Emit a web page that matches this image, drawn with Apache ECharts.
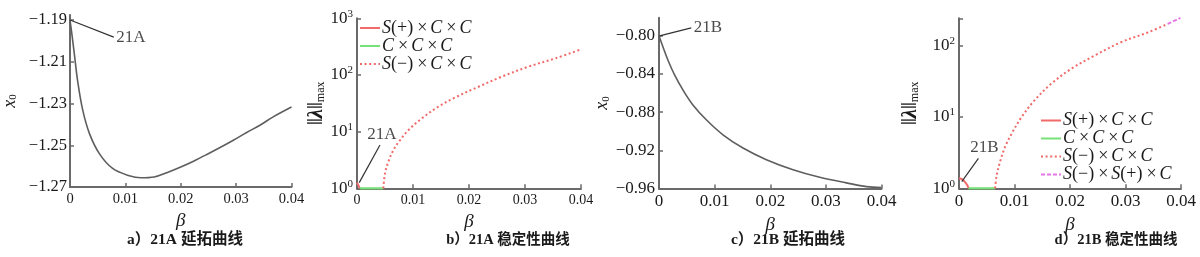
<!DOCTYPE html>
<html><head><meta charset="utf-8">
<script src="https://cdn.jsdelivr.net/npm/echarts@6/dist/echarts.min.js"></script>
<style>html,body{margin:0;padding:0;background:#fff}#c{width:1200px;height:257px}</style>
</head><body><div id="c"></div>
<script>
// ---- data ----
const xTicks = [0, 0.01, 0.02, 0.03, 0.04];
const yTicksA = [-1.27, -1.25, -1.23, -1.21, -1.19];
const yTicksC = [-0.96, -0.92, -0.88, -0.84, -0.80];

// a) 21A continuation curve
const betaA = [0, 0.0004, 0.00077, 0.0014, 0.0023, 0.0035, 0.0053, 0.0077, 0.0107, 0.0128, 0.0152, 0.0176, 0.0200, 0.0224, 0.0248, 0.0271, 0.0295, 0.0319, 0.0343, 0.0367, 0.0400];
const x0A   = [-1.19, -1.198, -1.206, -1.2196, -1.2332, -1.2443, -1.254, -1.2611, -1.2646, -1.2656, -1.2652, -1.2630, -1.2604, -1.2575, -1.2543, -1.2511, -1.2476, -1.2439, -1.2404, -1.2364, -1.2317];

// b) 21A stability curves
const betaB_sp = [0, 0.0003, 0.0005];
const lamB_sp  = [1.25, 1.1, 1.0];
const betaB_cc = [0.0005, 0.0047];
const lamB_cc  = [1, 1];
const betaB_sm = [0.0047, 0.0050, 0.0056, 0.0065, 0.0077, 0.0092, 0.0116, 0.0145, 0.0175, 0.0217, 0.0258, 0.0306, 0.0354, 0.040];
const lamB_sm  = [1.0, 1.84, 2.95, 4.73, 7.1, 10.7, 17.2, 27.5, 40, 62, 93, 140, 196, 283];

// c) 21B continuation curve
const betaC = [0, 0.0007, 0.0016, 0.0028, 0.0043, 0.0061, 0.0085, 0.0115, 0.0151, 0.0193, 0.0241, 0.0289, 0.0337, 0.0373, 0.040];
const x0C   = [-0.80, -0.8115, -0.8254, -0.841, -0.8567, -0.8724, -0.888, -0.9037, -0.9176, -0.9298, -0.9403, -0.9483, -0.9541, -0.958, -0.959];

// d) 21B stability curves
const betaD_sp = [0, 0.0006, 0.0011, 0.0015, 0.0017];
const lamD_sp  = [1.38, 1.33, 1.22, 1.1, 1.0];
const betaD_cc = [0.0017, 0.0065];
const lamD_cc  = [1, 1];
const betaD_sm = [0.0065, 0.0068, 0.0074, 0.0083, 0.0095, 0.0113, 0.0136, 0.0166, 0.0202, 0.0244, 0.0292, 0.034, 0.0376];
const lamD_sm  = [1.0, 1.53, 2.35, 3.8, 5.85, 10, 17, 29, 47, 72, 111, 152, 200];
const betaD_ss = [0.0376, 0.0399];
const lamD_ss  = [200, 243];

// annotations: [start, end] in data coordinates
const annA = [[0, -1.19], [0.0079, -1.1982]];
const annB = [[0.0004, 1.26], [0.0041, 5.8]];
const annC = [[0.0001, -0.80], [0.0058, -0.7916]];
const annD = [[0.0005, 1.24], [0.0035, 2.62]];

const namesB = ['S(+)×C×C', 'C×C×C', 'S(\u2212)×C×C'];
const namesD = ['S(+)×C×C', 'C×C×C', 'S(\u2212)×C×C', 'S(\u2212)×S(+)×C'];
const captions = ['a）21A 延拓曲线', 'b）21A 稳定性曲线', 'c）21B 延拓曲线', 'd）21B 稳定性曲线'];

// ---- style ----
const SERIF = '"Liberation Serif", "DejaVu Serif", serif';
const CJK = '"Liberation Serif", "Noto Sans CJK SC", serif';
const TXT = '#1a1a1a';
const AX = '#6a6a6a';
const RED = '#f06a6a', GREEN = '#78e078', MAG = '#e677e6', GRAY = '#5e5e5e';

const zip = (xs, ys) => xs.map((x, i) => [x, ys[i]]);

const grids = [
  {left: 69, top: 15, width: 222.5, height: 172},
  {left: 357, top: 18.3, width: 224, height: 170},
  {left: 659, top: 17.7, width: 222.5, height: 170.8},
  {left: 959, top: 18.3, width: 222, height: 170}
];
const xFs = [14.5, 14, 17, 17];
const capFs = [15.5, 14.5, 15.5, 14.5];
const capX = [185, 508, 788, 1116];

const xAxes = grids.map((g, i) => ({
  gridIndex: i, type: 'value', min: 0, max: 0.04, interval: 0.01,
  name: 'β', nameLocation: 'middle', nameGap: 21,
  nameTextStyle: {fontFamily: SERIF, fontStyle: 'italic', fontSize: 19, color: TXT},
  axisLine: {show: true, lineStyle: {color: AX, width: 2}},
  axisTick: {show: true, inside: true, length: 4, lineStyle: {color: AX, width: 1.5}},
  axisLabel: {fontFamily: SERIF, fontSize: xFs[i], color: TXT, margin: 5,
    customValues: xTicks, formatter: v => (v === 0 ? '0' : v.toFixed(2))},
  splitLine: {show: false}
}));

const fmtNum = v => (v < 0 ? '\u2212' : '') + Math.abs(v).toFixed(2);
const fmtLog = v => {
  const e = Math.log10(v), r = Math.round(e);
  if (Math.abs(e - r) > 1e-6) return '';
  return '10{s|' + r + '}';
};
const logRich = {s: {fontFamily: SERIF, fontSize: 11, verticalAlign: 'top', lineHeight: 10, color: TXT}};

const x0Name = '{i|x}{s|0}';
const x0Rich = {i: {fontFamily: SERIF, fontStyle: 'italic', fontSize: 18, color: TXT},
                s: {fontFamily: SERIF, fontSize: 11, verticalAlign: 'bottom', color: TXT}};
const lamName = '{n|‖}{l|λ}{n|‖}{s|max}';
const lamRich = {n: {fontFamily: SERIF, fontSize: 21, fontWeight: 'bold', color: '#555'},
                 l: {fontFamily: SERIF, fontSize: 21, fontStyle: 'italic', fontWeight: 'bold', color: TXT},
                 s: {fontFamily: SERIF, fontSize: 12, verticalAlign: 'bottom', color: TXT}};

const baseY = {
  axisLine: {show: true, lineStyle: {color: AX, width: 2}},
  axisTick: {show: true, inside: true, length: 4, lineStyle: {color: AX, width: 1.5}},
  splitLine: {show: false},
  nameLocation: 'middle', nameRotate: 90
};
const yAxes = [
  Object.assign({}, baseY, {gridIndex: 0, type: 'value', min: -1.27, max: -1.1876,
    axisLabel: {fontFamily: SERIF, fontSize: 16.5, color: TXT, margin: 3, customValues: yTicksA, formatter: fmtNum},
    axisTick: Object.assign({}, baseY.axisTick, {customValues: yTicksA}),
    name: x0Name, nameGap: 51, nameTextStyle: {rich: x0Rich}}),
  Object.assign({}, baseY, {gridIndex: 1, type: 'log', logBase: 10, min: 1, max: 1000,
    axisLabel: {fontFamily: SERIF, fontSize: 17, color: TXT, margin: 4, lineHeight: 20, formatter: fmtLog, rich: logRich},
    name: lamName, nameGap: 26, nameTextStyle: {rich: lamRich}}),
  Object.assign({}, baseY, {gridIndex: 2, type: 'value', min: -0.96, max: -0.781,
    axisLabel: {fontFamily: SERIF, fontSize: 17, color: TXT, margin: 4, customValues: yTicksC, formatter: fmtNum},
    axisTick: Object.assign({}, baseY.axisTick, {customValues: yTicksC}),
    name: x0Name, nameGap: 46, nameTextStyle: {rich: x0Rich}}),
  Object.assign({}, baseY, {gridIndex: 3, type: 'log', logBase: 10, min: 1, max: 240,
    axisLabel: {fontFamily: SERIF, fontSize: 17, color: TXT, margin: 4, lineHeight: 20, formatter: fmtLog, rich: logRich},
    name: lamName, nameGap: 38, nameTextStyle: {rich: lamRich}})
];

const line = (name, idx, data, color, type, width) => ({
  name, type: 'line', xAxisIndex: idx, yAxisIndex: idx, data,
  symbol: 'none', smooth: 0.35, clip: false, silent: true, animation: false,
  lineStyle: {color, width, type}, itemStyle: {color}, z: 3
});
const annLine = (idx, pts) => ({
  type: 'line', xAxisIndex: idx, yAxisIndex: idx, data: pts, symbol: 'none',
  clip: false, silent: true, animation: false, lineStyle: {color: '#333', width: 1.2}, z: 4
});
const annText = (idx, pt, text, position, offset) => ({
  type: 'scatter', xAxisIndex: idx, yAxisIndex: idx, data: [pt], symbolSize: 1,
  itemStyle: {color: 'rgba(0,0,0,0)'}, clip: false, silent: true, animation: false,
  label: {show: true, formatter: text, position, distance: 2, offset: offset || [0, 0],
    fontFamily: SERIF, fontSize: 17, color: TXT}, z: 5
});

const dotted = [2, 2.6];
const series = [
  line('curveA', 0, zip(betaA, x0A), GRAY, 'solid', 1.6),
  line(namesB[0], 1, zip(betaB_sp, lamB_sp), RED, 'solid', 2),
  line(namesB[1], 1, zip(betaB_cc, lamB_cc), GREEN, 'solid', 2.2),
  line(namesB[2], 1, zip(betaB_sm, lamB_sm), RED, dotted, 2),
  line('curveC', 2, zip(betaC, x0C), GRAY, 'solid', 1.6),
  line(namesD[0], 3, zip(betaD_sp, lamD_sp), RED, 'solid', 2),
  line(namesD[1], 3, zip(betaD_cc, lamD_cc), GREEN, 'solid', 2.2),
  line(namesD[2], 3, zip(betaD_sm, lamD_sm), RED, dotted, 2),
  line(namesD[3], 3, zip(betaD_ss, lamD_ss), MAG, [4, 2], 2),
  annLine(0, annA), annText(0, annA[1], '21A', 'right'),
  annLine(1, annB), annText(1, annB[1], '21A', 'top', [2, 0]),
  annLine(2, annC), annText(2, annC[1], '21B', 'right'),
  annLine(3, annD), annText(3, annD[1], '21B', 'top', [6, 0])
];

const fmtLegend = n => n.replace(/([SC])/g, '{i|$1}').replace(/×/g, '{x|×}');
const legRich = {
  i: {fontFamily: SERIF, fontStyle: 'italic', fontSize: 18, color: TXT},
  x: {fontFamily: SERIF, fontSize: 18, color: TXT, padding: [0, 3, 0, 4]}
};
const legendBase = {
  orient: 'vertical', itemWidth: 20, itemHeight: 2, itemGap: 0, padding: 0,
  selectedMode: false, formatter: fmtLegend,
  itemStyle: {opacity: 0, borderWidth: 0},
  textStyle: {fontFamily: SERIF, fontSize: 18, color: TXT, lineHeight: 17, padding: [0, 0, 0, -3], rich: legRich}
};

const chart = echarts.init(document.getElementById('c'), null, {renderer: 'canvas'});
chart.setOption({
  animation: false,
  backgroundColor: '#fff',
  grid: grids,
  xAxis: xAxes,
  yAxis: yAxes,
  legend: [
    Object.assign({}, legendBase, {data: namesB, left: 359, top: 19}),
    Object.assign({}, legendBase, {data: namesD, left: 1040, top: 111.5})
  ],
  series,
  graphic: captions.map((t, i) => ({
    type: 'text', x: capX[i], y: 240,
    style: {text: t, fontFamily: CJK, fontWeight: 'bold', fontSize: capFs[i], fill: TXT,
      textAlign: 'center', textVerticalAlign: 'middle'}
  }))
});
</script></body></html>
